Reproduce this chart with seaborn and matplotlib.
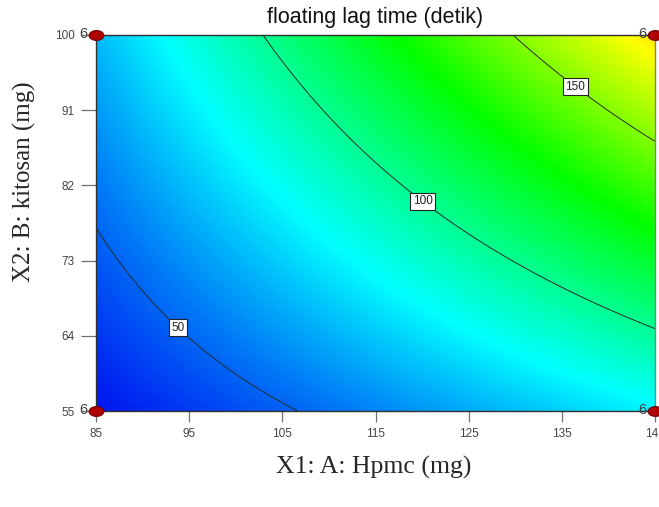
import numpy as np
import pandas as pd
import matplotlib
matplotlib.use("Agg")
import matplotlib.pyplot as plt
import seaborn as sns
from matplotlib.colors import LinearSegmentedColormap
from matplotlib.markers import MarkerStyle
from matplotlib.transforms import Affine2D

# Factor ranges
hpmc_range = [85, 145]
kitosan_range = [55, 100]

# Fitted response model (coded factors A, B in [-1, 1])
b0 = 89.3
b_a = 38.9
b_b = 33.2
b_ab = 17.0

# Contour levels and their label positions (Hpmc, kitosan)
levels = [50, 100, 150]
label_pos = [(94.2, 65.4), (120.7, 81.0), (137.0, 94.6)]

# Ticks
x_ticks = [85, 95, 105, 115, 125, 135, 145]
y_ticks = [55, 64, 73, 82, 91, 100]

# Design points (corners) and replicate counts
design_hpmc = [85, 85, 145, 145]
design_kitosan = [55, 100, 55, 100]
design_count = [6, 6, 6, 6]

# Colour range of the response scale
color_min = 33
color_max = 220

sns.set_style("white")
plt.rcParams["font.family"] = ["Liberation Sans", "DejaVu Sans"]

W, H = 659, 507
fig = plt.figure(figsize=(W / 100, H / 100), dpi=100)
ax = fig.add_axes([96 / W, 1 - 411 / H, (655 - 96) / W, (411 - 35) / H])

xs = np.linspace(hpmc_range[0], hpmc_range[1], 300)
ys = np.linspace(kitosan_range[0], kitosan_range[1], 300)
X, Y = np.meshgrid(xs, ys)
A = (X - 115) / 30
B = (Y - 77.5) / 22.5
Z = b0 + b_a * A + b_b * B + b_ab * A * B

cmap = LinearSegmentedColormap.from_list(
    "de", ["#0010f0", "#00ffff", "#00ff00", "#ffff00", "#ff0000"])
ax.imshow(Z, extent=[hpmc_range[0], hpmc_range[1], kitosan_range[0], kitosan_range[1]],
          origin="lower", aspect="auto", cmap=cmap, vmin=color_min, vmax=color_max,
          interpolation="bilinear")

cs = ax.contour(X, Y, Z, levels=levels, colors="#2a2a2a", linewidths=0.7)
labels = ax.clabel(cs, fmt="%d", fontsize=8.5, inline=False, manual=label_pos)
for t in labels:
    t.set_rotation(0)
    t.set_bbox(dict(facecolor="white", edgecolor="#222222", linewidth=0.8, pad=1.8))
    t.set_color("#222222")
    t.set_zorder(6)

ax.set_xlim(hpmc_range)
ax.set_ylim(kitosan_range)
ax.set_xticks(x_ticks)
ax.set_yticks(y_ticks)
ax.tick_params(axis="both", direction="out", width=0.9, color="#707070",
               labelsize=8.5, labelcolor="#444444", bottom=True, left=True)
ax.tick_params(axis="y", length=10.5, pad=5)
ax.tick_params(axis="x", length=8, pad=4)

for side, sp in ax.spines.items():
    sp.set_linewidth(1.0)
    sp.set_color("#303030" if side in ("left", "bottom", "top") else "#808080")

fig.text(375.5 / W, 1 - 18 / H, "floating lag time (detik)", ha="center", va="center",
         fontsize=15.5, color="#111111")
ax.set_xlabel("X1: A: Hpmc (mg)", family=["Liberation Serif"], fontsize=18.5)
ax.set_ylabel("X2: B: kitosan (mg)", family=["Liberation Serif"], fontsize=18)
ax.xaxis.label.set_va("center")
ax.yaxis.label.set_va("center")
ax.xaxis.set_label_coords((374 - 96) / 559, (411 - 467) / 376)
ax.yaxis.set_label_coords((24 - 96) / 559, (411 - 182) / 376)

points = pd.DataFrame({"hpmc": design_hpmc, "kitosan": design_kitosan, "n": design_count})
ellipse = MarkerStyle("o", transform=Affine2D().scale(1.5, 1.0))
sns.scatterplot(data=points, x="hpmc", y="kitosan", ax=ax, marker=ellipse, s=50,
                color="#b00000", edgecolor="#700000", linewidth=0.8, clip_on=False,
                zorder=10, legend=False)
for _, r in points.iterrows():
    ax.annotate(str(r["n"]), (r["hpmc"], r["kitosan"]), xytext=(-6, 1),
                textcoords="offset points", ha="right", va="center",
                fontsize=10.5, color="#404040", annotation_clip=False, zorder=11)

fig.savefig("out.png", dpi=100)
